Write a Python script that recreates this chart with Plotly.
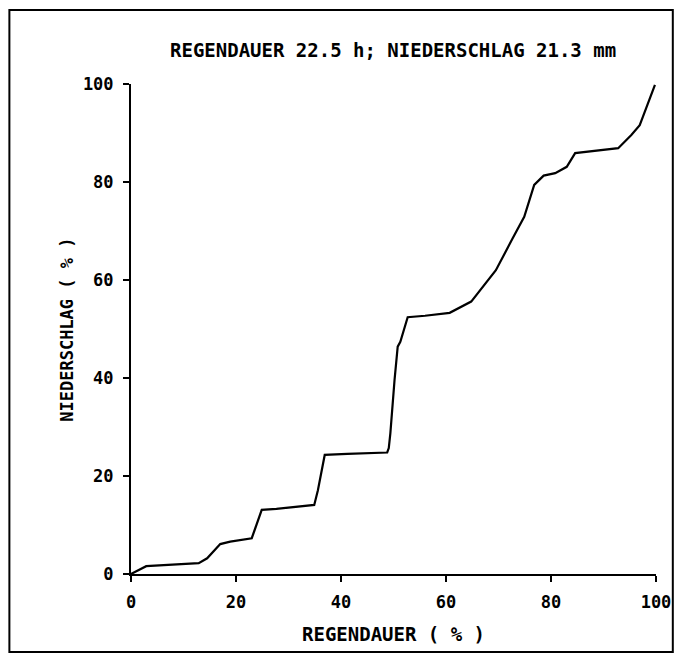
import plotly.graph_objects as go

# Cumulative rainfall curve: share of rain duration vs share of precipitation
regendauer_pct = [0.0, 2.9, 12.9, 14.5, 17.0, 18.9, 23.0, 24.9, 27.7, 34.9, 35.6,
                  36.5, 36.9, 41.2, 48.8, 49.1, 49.4, 50.2, 50.8, 51.3, 52.7,
                  56.0, 60.7, 64.8, 67.0, 69.5, 72.7, 74.9, 76.8, 78.6, 80.8,
                  83.0, 84.6, 92.8, 95.3, 96.9, 99.8]
niederschlag_pct = [0.0, 1.6, 2.2, 3.2, 6.1, 6.6, 7.3, 13.1, 13.3, 14.1, 17.1,
                    21.9, 24.3, 24.5, 24.8, 25.7, 28.7, 39.6, 46.4, 47.4, 52.4,
                    52.7, 53.3, 55.6, 58.6, 62.0, 68.5, 72.9, 79.4, 81.3, 81.8,
                    83.1, 85.9, 86.9, 89.6, 91.6, 99.8]

tick_vals = [0, 20, 40, 60, 80, 100]
tick_text = ["0", "20", "40", "60", "80", "100"]

title_text = "REGENDAUER 22.5 h; NIEDERSCHLAG 21.3 mm"
x_title = "REGENDAUER ( % )"
y_title = "NIEDERSCHLAG ( % )"

FONT = "DejaVu Sans Mono"

W, H = 683, 656
L, R, T, B = 131, 21, 84, 82
pw, ph = W - L - R, H - T - B


def px_x(px):
    return (px - L) / pw


def px_y(py):
    return (H - B - py) / ph


fig = go.Figure()
fig.add_trace(go.Scatter(
    x=regendauer_pct, y=niederschlag_pct, mode="lines",
    line=dict(color="black", width=2.2), showlegend=False, hoverinfo="skip"))

axis_common = dict(
    range=[0, 100], tickmode="array", tickvals=tick_vals, ticktext=tick_text,
    showgrid=False, zeroline=False, showline=True, linecolor="black",
    linewidth=2, ticks="outside", ticklen=6, tickwidth=2, tickcolor="black",
    tickfont=dict(family=FONT, size=17, color="black", weight="bold"),
    fixedrange=True)

fig.update_xaxes(**axis_common, ticklabelstandoff=6)
fig.update_yaxes(**axis_common, ticklabelstandoff=6)

fig.add_annotation(text=title_text, xref="paper", yref="paper",
                   x=px_x(396), y=px_y(50), showarrow=False,
                   xanchor="center", yanchor="middle",
                   font=dict(family=FONT, size=19, color="black", weight="bold"))
fig.add_annotation(text=x_title, xref="paper", yref="paper",
                   x=px_x(396), y=px_y(634), showarrow=False,
                   xanchor="center", yanchor="middle",
                   font=dict(family=FONT, size=19, color="black", weight="bold"))
fig.add_annotation(text=y_title, xref="paper", yref="paper",
                   x=px_x(66), y=px_y(330), showarrow=False, textangle=-90,
                   xanchor="center", yanchor="middle",
                   font=dict(family=FONT, size=17, color="black", weight="bold"))

# frame around the whole figure
fig.add_shape(type="rect", xref="paper", yref="paper",
              x0=px_x(8), x1=px_x(679), y0=px_y(652), y1=px_y(10),
              line=dict(color="black", width=2), layer="above")

fig.update_layout(
    width=W, height=H, margin=dict(l=L, r=R, t=T, b=B),
    paper_bgcolor="white", plot_bgcolor="white")

fig.write_html("out.html", config={"displayModeBar": False})
